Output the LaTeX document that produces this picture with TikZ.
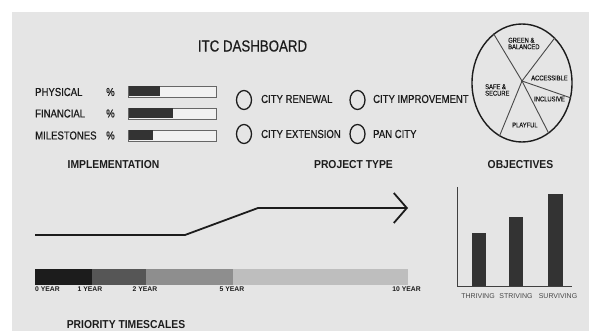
\documentclass[tikz,border=0pt]{standalone}
\usepackage{fontspec}
\setmainfont{Liberation Sans}
\newfontfamily\narrowfont{Liberation Sans}[FakeStretch=0.83,FakeBold=0.6]
\newfontfamily\headfont{Liberation Sans}[FakeStretch=0.9]
\usetikzlibrary{arrows.meta,shapes.geometric}
\definecolor{bggray}{HTML}{E5E5E5}
\definecolor{ink}{HTML}{1C1C1C}
\definecolor{barfill}{HTML}{333333}
\definecolor{barframe}{HTML}{666666}
\definecolor{barback}{HTML}{F1F1F1}
\definecolor{shadeA}{HTML}{1C1C1C}
\definecolor{shadeB}{HTML}{565656}
\definecolor{shadeC}{HTML}{8E8E8E}
\definecolor{shadeD}{HTML}{BEBEBE}
\begin{document}
\begin{tikzpicture}[x=1pt,y=-1pt,
	txt/.style={inner sep=0pt,text=ink,font=\narrowfont\fontsize{11.5}{13}\selectfont},
	rowlabel/.style={txt,anchor=west},
	heading/.style={inner sep=0pt,text=ink,font=\headfont\bfseries\fontsize{11.5}{13}\selectfont},
	slice/.style={inner sep=0pt,text=ink,align=left,anchor=west,font=\narrowfont\fontsize{7}{8}\selectfont},
	year/.style={inner sep=0pt,text=ink,font=\bfseries\fontsize{6.8}{7}\selectfont},
	score/.style={inner sep=0pt,text=black!72,font=\fontsize{7}{8}\selectfont},
	radio/.style={draw=ink,ellipse,line width=1.3pt,minimum width=15pt,minimum height=19pt,inner sep=0pt},
	gauge/.style={draw=barframe,fill=barback,line width=0.9pt},
	column/.style={fill=barfill}]
	\useasboundingbox (0,0) rectangle (589,331);
	\fill[white] (0,0) rectangle (589,331);
	\fill[bggray] (12,12) rectangle (589,331);
	
	\node	(title) at (252.5,46) [txt,font=\narrowfont\fontsize{16}{18}\selectfont] {ITC DASHBOARD};
	
	\node	(phys) at (35,92) [rowlabel] {PHYSICAL};
	\node	(fin) at (35,113.5) [rowlabel] {FINANCIAL};
	\node	(mile) at (35,135.5) [rowlabel] {MILESTONES};
	\node	(pphys) at (106,92) [rowlabel] {\%};
	\node	(pfin) at (106,113.5) [rowlabel] {\%};
	\node	(pmile) at (106,135.5) [rowlabel] {\%};
	\draw[gauge] (128,86) rectangle (216,97);
	\draw[gauge] (128,108) rectangle (216,119);
	\draw[gauge] (128,130) rectangle (216,141);
	\fill[barfill] (128.5,86.5) rectangle (160,96.5);
	\fill[barfill] (128.5,108.5) rectangle (173,118.5);
	\fill[barfill] (128.5,130.5) rectangle (153,140.5);
	\node	(impl) at (113.5,165) [heading] {IMPLEMENTATION};
	
	\node	(r1) at (244,100) [radio] {};
	\node	(r2) at (357.5,100) [radio] {};
	\node	(r3) at (244,134) [radio] {};
	\node	(r4) at (357.5,134) [radio] {};
	\node	(renew) at (261,99) [rowlabel] {CITY RENEWAL};
	\node	(improve) at (373,99) [rowlabel] {CITY IMPROVEMENT};
	\node	(extend) at (261,134) [rowlabel] {CITY EXTENSION};
	\node	(pan) at (373,134) [rowlabel] {PAN CITY};
	\node	(ptype) at (353.5,165) [heading] {PROJECT TYPE};
	
	\node	(pie) at (522,83) [draw=ink,ellipse,line width=1.4pt,minimum width=100pt,minimum height=118pt,inner sep=0pt] {};
	\coordinate	(hub) at (522,81);
	\fill[ink] (hub) circle (1.2);
	\draw[ink!80,line width=0.9pt]
	(hub) edge (pie.120)
	(hub) edge (pie.54)
	(hub) edge (pie.-17)
	(hub) edge (pie.-62)
	(hub) edge (pie.-113)
	;
	\node	(green) at (508,43.5) [slice] {GREEN \&\\[-1.5pt]BALANCED};
	\node	(safe) at (485,90) [slice] {SAFE \&\\[-1.5pt]SECURE};
	\node	(access) at (531,78) [slice] {ACCESSIBLE};
	\node	(incl) at (534,99) [slice] {INCLUSIVE};
	\node	(play) at (512,125) [slice] {PLAYFUL};
	\node	(obj) at (520.5,165) [heading] {OBJECTIVES};
	
	\coordinate	(t0) at (35,235);
	\coordinate	(t1) at (185,235);
	\coordinate	(t2) at (258,208);
	\coordinate	(t3) at (408,208);
	\draw[ink,line width=1.8pt,line join=round,-{Straight Barb[length=13pt,width=30pt]}] (t0) -- (t1) -- (t2) -- (t3);
	
	\fill[shadeA] (35,269) rectangle (92,285);
	\fill[shadeB] (92,269) rectangle (146,285);
	\fill[shadeC] (146,269) rectangle (233,285);
	\fill[shadeD] (233,269) rectangle (408,285);
	\node	(y0) at (35,289.5) [year,anchor=west] {0 YEAR};
	\node	(y1) at (90,289.5) [year] {1 YEAR};
	\node	(y2) at (145,289.5) [year] {2 YEAR};
	\node	(y5) at (232,289.5) [year] {5 YEAR};
	\node	(y10) at (406.5,289.5) [year] {10 YEAR};
	\node	(prio) at (126,325) [heading] {PRIORITY TIMESCALES};
	
	\coordinate	(top) at (457,187);
	\coordinate	(orig) at (457,286);
	\coordinate	(end) at (572,286);
	\draw[black!75,line width=1pt] (top) -- (orig) -- (end);
	\fill[column] (472,233) rectangle (486,286);
	\fill[column] (509,217) rectangle (523,286);
	\fill[column] (548,194) rectangle (563,286);
	\node	(thrive) at (478,296) [score] {THRIVING};
	\node	(strive) at (516,296) [score] {STRIVING};
	\node	(survive) at (558,296) [score] {SURVIVING};
\end{tikzpicture}
\end{document}
